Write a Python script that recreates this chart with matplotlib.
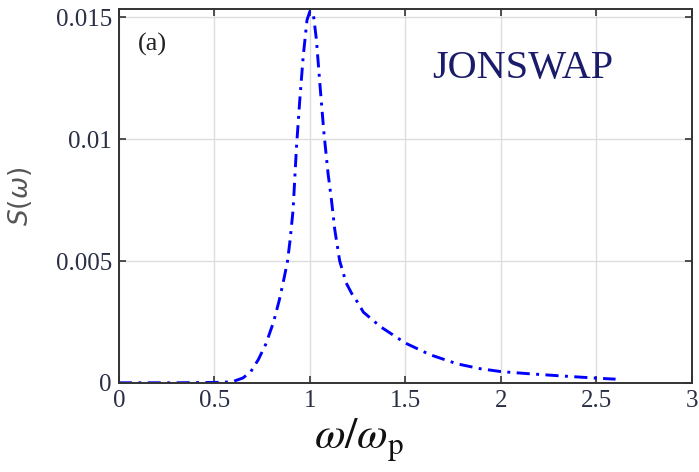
import matplotlib
matplotlib.use("Agg")
import matplotlib.pyplot as plt

# JONSWAP spectrum sampled on omega / omega_p
omega_ratio = [0.0, 0.3, 0.55, 0.60, 0.65, 0.69, 0.73, 0.77, 0.81, 0.84, 0.865,
               0.883, 0.897, 0.912, 0.93, 0.947, 0.965, 0.985, 1.0, 1.017,
               1.034, 1.052, 1.073, 1.095, 1.113, 1.13, 1.156, 1.19, 1.22, 1.25,
               1.28, 1.37, 1.5, 1.63, 1.77, 1.89, 2.0, 2.15, 2.3, 2.5, 2.6]
spectrum = [0.0, 0.0, 0.00002, 0.00006, 0.0002, 0.00045, 0.00095, 0.0016,
            0.0025, 0.0034, 0.0043, 0.0050, 0.0059, 0.0071, 0.0097, 0.0116,
            0.0134, 0.0149, 0.01525, 0.0152, 0.0141, 0.0123, 0.0103, 0.0086,
            0.0075, 0.0063, 0.0050, 0.0041, 0.00365, 0.0033, 0.0029, 0.0023,
            0.00163, 0.00115, 0.00078, 0.00058, 0.00046, 0.00037, 0.00029,
            0.00019, 0.00015]

x_ticks = [0, 0.5, 1, 1.5, 2, 2.5, 3]
x_tick_labels = ["0", "0.5", "1", "1.5", "2", "2.5", "3"]
y_ticks = [0, 0.005, 0.01, 0.015]
y_tick_labels = ["0", "0.005", "0.01", "0.015"]

plt.rcParams["font.family"] = ["Liberation Serif", "DejaVu Serif"]

fig = plt.figure(figsize=(6.99, 4.72), dpi=100)
ax = fig.add_axes([0.170, 0.189, 0.820, 0.791])

ax.plot(omega_ratio, spectrum, color="#0000ff", linewidth=2.1,
        linestyle=(0, (4.5, 2.2, 1.0, 2.2)))

ax.set_xlim(0, 3)
ax.set_ylim(0, 0.01533)
ax.set_xticks(x_ticks)
ax.set_xticklabels(x_tick_labels)
ax.set_yticks(y_ticks)
ax.set_yticklabels(y_tick_labels)
ax.tick_params(direction="in", top=True, right=True, length=5, width=1.2,
               labelsize=18, labelcolor="#2a2f45", color="#333333", pad=5)
ax.grid(True, color="#dddddd", linewidth=1.0)
ax.set_axisbelow(True)
for sp in ax.spines.values():
    sp.set_color("#333333")
    sp.set_linewidth(1.4)

ax.set_xlabel(r"$\omega/\omega_{\rm p}$", fontsize=32, math_fontfamily="stix",
              color="#111111")
ax.xaxis.set_label_coords(0.419, -0.09)
ax.set_ylabel(r"$S(\omega)$", fontsize=19, math_fontfamily="dejavusans",
              color="#555555")
ax.yaxis.set_label_coords(-0.148, 0.50)

ax.text(0.033, 0.905, "(a)", transform=ax.transAxes, fontsize=19,
        color="#222222", ha="left", va="center")
ax.text(0.704, 0.843, "JONSWAP", transform=ax.transAxes, fontsize=29,
        color="#1b1b6b", ha="center", va="center")

fig.savefig("out.png", dpi=100)
